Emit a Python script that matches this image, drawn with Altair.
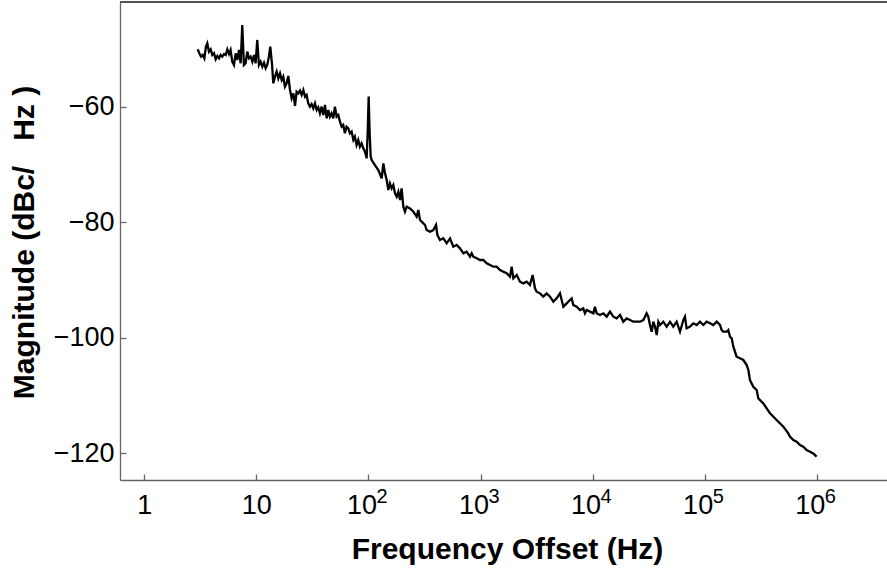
import altair as alt
import pandas as pd

# log10 of frequency offset (Hz) and magnitude (dBc/Hz)
log_freq = [
    0.476, 0.491, 0.506, 0.521, 0.536, 0.550, 0.562, 0.577, 0.592, 0.607, 0.622, 0.637,
    0.652, 0.667, 0.681, 0.696, 0.711, 0.726, 0.741, 0.756, 0.770, 0.785, 0.800, 0.815,
    0.830, 0.845, 0.860, 0.874, 0.889, 0.904, 0.919, 0.934, 0.949, 0.964, 0.979, 0.993,
    1.008, 1.023, 1.038, 1.053, 1.068, 1.083, 1.097, 1.112, 1.124, 1.139, 1.151, 1.166,
    1.181, 1.196, 1.211, 1.226, 1.240, 1.255, 1.270, 1.285, 1.300, 1.315, 1.330, 1.345,
    1.359, 1.374, 1.389, 1.404, 1.419, 1.434, 1.448, 1.463, 1.478, 1.493, 1.508, 1.523,
    1.538, 1.552, 1.567, 1.582, 1.597, 1.612, 1.627, 1.642, 1.656, 1.671, 1.686, 1.701,
    1.716, 1.731, 1.746, 1.761, 1.775, 1.790, 1.805, 1.820, 1.835, 1.850, 1.865, 1.879,
    1.894, 1.909, 1.924, 1.939, 1.954, 1.969, 1.984, 1.993, 2.002, 2.011, 2.020,
    2.029, 2.058, 2.088, 2.118, 2.133, 2.148, 2.163, 2.177, 2.192, 2.207, 2.222, 2.237,
    2.252, 2.267, 2.282, 2.296, 2.311, 2.326, 2.341, 2.371, 2.401, 2.430, 2.445, 2.460,
    2.475, 2.505, 2.519, 2.549, 2.579, 2.603, 2.615, 2.638,
    2.668, 2.698, 2.728, 2.757, 2.787, 2.817, 2.847, 2.876, 2.906, 2.921, 2.936, 2.966,
    2.995, 3.025, 3.055, 3.085, 3.114, 3.144, 3.174, 3.204, 3.233, 3.263, 3.278, 3.293,
    3.323, 3.352, 3.382, 3.412, 3.441, 3.465, 3.486, 3.501, 3.531, 3.560, 3.590, 3.620,
    3.650, 3.679, 3.709, 3.739, 3.769, 3.798, 3.813, 3.828, 3.858, 3.888, 3.917, 3.932,
    3.947, 3.977, 4.007, 4.021, 4.036, 4.066, 4.096, 4.126, 4.155, 4.185, 4.215, 4.245,
    4.274, 4.304, 4.334, 4.364, 4.393, 4.423, 4.453, 4.482, 4.497, 4.512, 4.527, 4.542,
    4.557, 4.572, 4.587, 4.601, 4.631, 4.661, 4.691, 4.720, 4.750, 4.780, 4.810, 4.824,
    4.839, 4.869, 4.899, 4.929, 4.958, 4.988, 5.018, 5.048, 5.077, 5.107, 5.137, 5.152,
    5.166, 5.196, 5.211, 5.226, 5.241, 5.256, 5.285, 5.315, 5.345, 5.375, 5.390, 5.404,
    5.434, 5.464, 5.479, 5.523, 5.583, 5.642, 5.702, 5.746, 5.761, 5.791, 5.821, 5.851,
    5.880, 5.910, 5.940, 5.969, 5.999,
]
magnitude = [
    -50.07, -50.76, -51.34, -51.05, -51.63, -49.61, -49.03, -50.47, -50.07, -51.05, -50.76, -51.80,
    -51.22, -51.63, -51.05, -51.34, -50.88, -51.05, -50.07, -50.88, -50.19, -52.20, -52.78, -50.76,
    -51.92, -50.19, -52.49, -45.86, -52.78, -52.49, -50.47, -51.63, -51.34, -52.20, -51.05, -52.49,
    -48.45, -52.78, -52.20, -53.07, -52.38, -53.36, -52.78, -51.34, -49.61, -52.49, -55.96, -54.80,
    -53.94, -55.09, -54.22, -55.38, -54.80, -56.53, -55.96, -54.69, -57.11, -58.55, -57.69, -59.88,
    -57.40, -57.69, -57.22, -57.97, -57.11, -58.26, -57.97, -59.42, -59.99, -59.53, -60.28, -59.42,
    -60.57, -60.11, -61.15, -59.99, -61.44, -59.71, -62.01, -60.57, -61.73, -61.15, -62.01, -59.99,
    -61.73, -61.44, -62.59, -63.46, -63.17, -64.61, -63.46, -63.74, -64.61, -64.32, -65.76, -65.19,
    -66.63, -65.76, -66.92, -66.34, -67.21, -67.78, -68.94, -64.61, -58.26, -64.61, -68.65,
    -69.23, -70.10, -70.96, -72.40, -69.81, -71.54, -72.69, -74.42, -73.27, -74.13, -73.56, -75.00,
    -75.58, -74.71, -76.15, -74.13, -77.31, -78.17, -77.31, -77.60, -78.17, -79.04, -77.89, -79.62,
    -79.90, -80.48, -81.35, -81.64, -81.35, -80.48, -82.21, -83.08,
    -82.79, -83.65, -82.79, -84.23, -83.94, -84.52, -85.38, -85.09, -85.96, -85.38, -85.96, -86.25,
    -86.54, -86.54, -87.11, -87.40, -87.69, -87.69, -88.27, -88.56, -88.84, -89.42, -87.69, -89.71,
    -89.13, -90.29, -90.58, -90.29, -90.86, -89.13, -91.44, -92.02, -92.31, -92.88, -92.31, -92.88,
    -93.75, -93.18, -92.31, -94.62, -94.04, -93.47, -93.18, -94.33, -94.62, -95.20, -94.91, -95.77,
    -95.20, -95.48, -95.77, -94.62, -95.77, -96.06, -95.77, -96.35, -95.48, -96.35, -96.64, -96.06,
    -97.22, -96.64, -96.93, -97.22, -97.22, -97.22, -96.93, -95.77, -96.35, -97.79, -98.95, -97.22,
    -98.08, -99.52, -97.22, -97.79, -97.22, -98.08, -97.22, -98.08, -97.22, -98.95, -96.93, -96.35,
    -98.37, -98.08, -97.50, -97.79, -97.22, -97.79, -97.22, -97.50, -97.79, -97.22, -97.79, -98.66,
    -98.95, -98.95, -98.66, -99.81, -100.10, -101.54, -103.27, -103.56, -103.85, -104.72, -105.58, -107.31,
    -108.47, -109.04, -110.49, -111.35, -113.08, -114.24, -115.39, -116.55, -117.12, -117.70, -117.99, -118.56,
    -118.85, -119.43, -119.72, -120.01, -120.58,
]
x_tick_values = [1, 10, 100, 1000, 10000, 100000, 1000000]
exp_tick_values = [100, 1000, 10000, 100000, 1000000]
exp_labels = ["2", "3", "4", "5", "6"]
y_tick_values = [-120, -100, -80, -60]
x_title = "Frequency Offset (Hz)"
y_title = "Magnitude (dBc/   Hz )"

df = pd.DataFrame({"f": [10 ** v for v in log_freq], "db": magnitude})
exp_df = pd.DataFrame({"v": exp_tick_values, "e": exp_labels})

W, H = 767, 478
FONT = "Liberation Sans"
AX = "#666666"

xscale = alt.Scale(type="log", domain=[0.607, 4.236e6], nice=False)
yscale = alt.Scale(domain=[-124.62, -41.88], nice=False, zero=False)

label_expr = "datum.value < 5 ? '1' : '10'"

main = alt.Chart(df).mark_line(color="black", strokeWidth=2.3).encode(
    x=alt.X("f:Q", scale=xscale, axis=alt.Axis(
        orient="bottom", values=x_tick_values, labelExpr=label_expr, tickSize=0,
        ticks=False, grid=False, domainColor=AX, domainWidth=1.3,
        labelFont=FONT, labelFontSize=27, labelColor="black", labelPadding=12,
        labelAlign={"condition": {"test": "datum.value > 50", "value": "right"}, "value": "center"},
        labelOffset={"condition": {"test": "datum.value > 50", "value": 8}, "value": 0},
        labelFlush=False, labelOverlap=False, labelBound=False,
        title=x_title, titleFont=FONT, titleFontSize=30, titleFontWeight="bold",
        titleColor="black", titleX=387, titleY=78, titleBaseline="alphabetic",
        titleAnchor="middle", titleAlign="center")),
    y=alt.Y("db:Q", scale=yscale, axis=alt.Axis(
        orient="left", values=y_tick_values, tickSize=0, ticks=False, grid=False,
        domainColor=AX, domainWidth=1.3,
        labelFont=FONT, labelFontSize=27, labelColor="black", labelPadding=6,
        labelFlush=False, labelOverlap=False,
        title=y_title.replace(" ", "\u00a0"), titleFont=FONT, titleFontSize=30,
        titleFontWeight="bold", titleColor="black", titleX=-87, titleY=240,
        titleAngle=-90, titleBaseline="alphabetic", titleAlign="center")),
)

ticks = alt.Chart(df).mark_line(strokeOpacity=0).encode(
    x=alt.X("f:Q", scale=xscale, axis=alt.Axis(
        orient="bottom", values=x_tick_values, offset=-6, tickSize=6,
        tickColor=AX, tickWidth=1.3, labels=False, domain=False, grid=False, title=None)),
    y=alt.Y("db:Q", scale=yscale, axis=alt.Axis(
        orient="left", values=y_tick_values, offset=-6, tickSize=6,
        tickColor=AX, tickWidth=1.3, labels=False, domain=False, grid=False, title=None)),
)

exponents = alt.Chart(exp_df).mark_text(
    align="left", baseline="alphabetic", font=FONT, fontSize=20, color="black", dx=8
).encode(
    x=alt.X("v:Q", scale=xscale, axis=None),
    y=alt.value(H + 23),
    text="e:N",
)

border = alt.Chart(df).mark_rule(color="#555555", strokeWidth=1.6).encode(
    x=alt.value(0), x2=alt.value(W), y=alt.value(0)
)

chart = alt.layer(main, ticks, exponents, border).resolve_axis(
    x="independent", y="independent"
).properties(
    width=W, height=H,
    autosize=alt.AutoSizeParams(type="none"),
    padding={"left": 120, "top": 2, "right": 0, "bottom": 90},
).configure_view(stroke=None).configure(background="white")

chart.save("out.html", embed_options={"renderer": "svg", "actions": False})
